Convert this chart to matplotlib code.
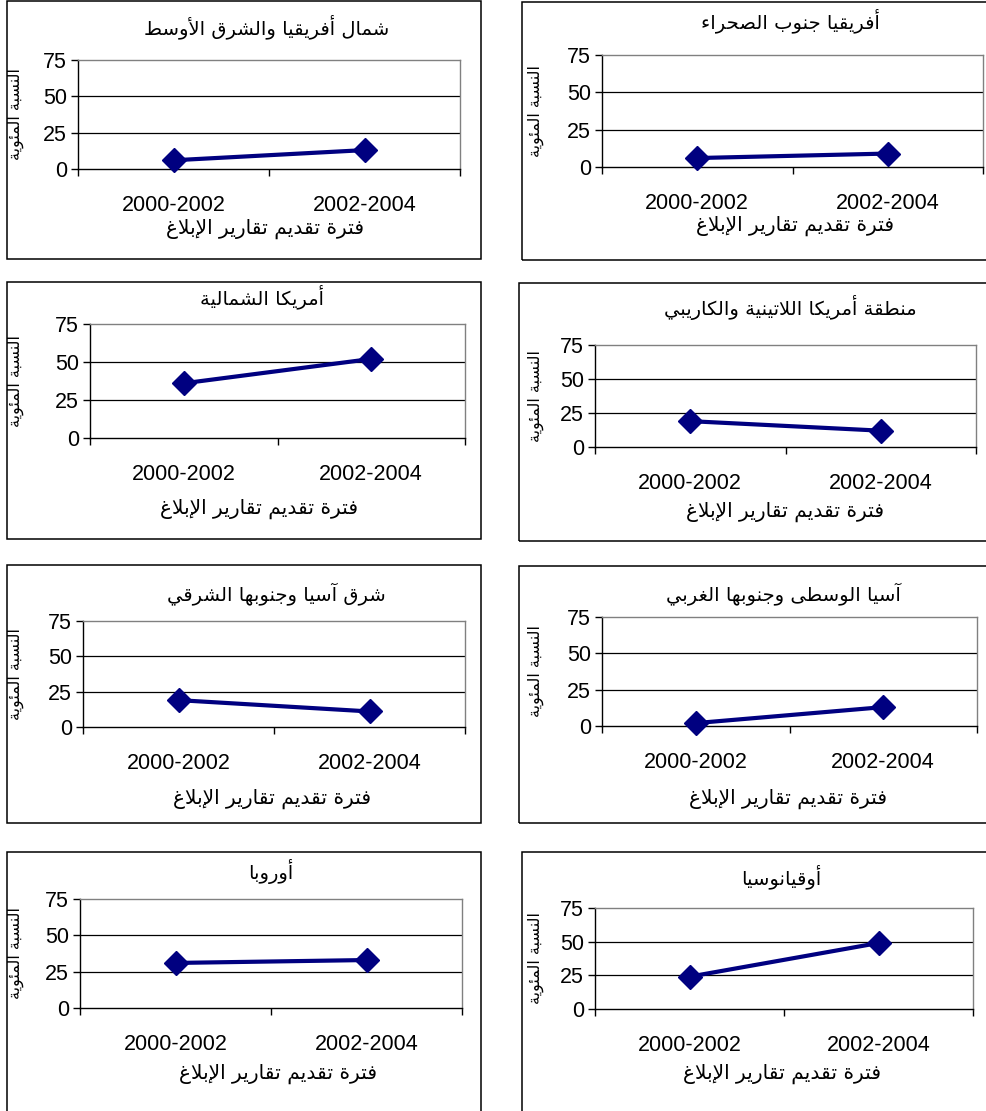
import matplotlib
matplotlib.use("Agg")
import matplotlib.pyplot as plt
from matplotlib.patches import Rectangle

# ---- data -------------------------------------------------------------
periods = ["2000-2002", "2002-2004"]

regions = [
    "شمال أفريقيا والشرق الأوسط",
    "أفريقيا جنوب الصحراء",
    "أمريكا الشمالية",
    "منطقة أمريكا اللاتينية والكاريبي",
    "شرق آسيا وجنوبها الشرقي",
    "آسيا الوسطى وجنوبها الغربي",
    "أوروبا",
    "أوقيانوسيا",
]

north_africa_me = [6, 13]
sub_saharan = [6, 9]
north_america = [36, 52]
latin_america = [19, 12]
east_asia = [19, 11]
central_asia = [2, 13]
europe = [31, 33]
oceania = [24, 49]

series = [north_africa_me, sub_saharan, north_america, latin_america,
          east_asia, central_asia, europe, oceania]

y_ticks = [0, 25, 50, 75]
x_title = "فترة تقديم تقارير الإبلاغ"
y_title = "النسبة المئوية"

# ---- Arabic shaping (matplotlib draws glyphs without shaping/bidi) ------
_FORMS = {
    '\u0621': (0xFE80, 1), '\u0622': (0xFE81, 2), '\u0623': (0xFE83, 2),
    '\u0624': (0xFE85, 2), '\u0625': (0xFE87, 2), '\u0626': (0xFE89, 4),
    '\u0627': (0xFE8D, 2), '\u0628': (0xFE8F, 4), '\u0629': (0xFE93, 2),
    '\u062A': (0xFE95, 4), '\u062B': (0xFE99, 4), '\u062C': (0xFE9D, 4),
    '\u062D': (0xFEA1, 4), '\u062E': (0xFEA5, 4), '\u062F': (0xFEA9, 2),
    '\u0630': (0xFEAB, 2), '\u0631': (0xFEAD, 2), '\u0632': (0xFEAF, 2),
    '\u0633': (0xFEB1, 4), '\u0634': (0xFEB5, 4), '\u0635': (0xFEB9, 4),
    '\u0636': (0xFEBD, 4), '\u0637': (0xFEC1, 4), '\u0638': (0xFEC5, 4),
    '\u0639': (0xFEC9, 4), '\u063A': (0xFECD, 4), '\u0641': (0xFED1, 4),
    '\u0642': (0xFED5, 4), '\u0643': (0xFED9, 4), '\u0644': (0xFEDD, 4),
    '\u0645': (0xFEE1, 4), '\u0646': (0xFEE5, 4), '\u0647': (0xFEE9, 4),
    '\u0648': (0xFEED, 2), '\u0649': (0xFEEF, 2), '\u064A': (0xFEF1, 4),
}
_LAM_ALEF = {'\u0622': 0xFEF5, '\u0623': 0xFEF7, '\u0625': 0xFEF9, '\u0627': 0xFEFB}


def shape_arabic(text):
    tokens = []
    i = 0
    while i < len(text):
        ch = text[i]
        if ch == '\u0644' and i + 1 < len(text) and text[i + 1] in _LAM_ALEF:
            tokens.append((_LAM_ALEF[text[i + 1]], 2))
            i += 2
            continue
        tokens.append(_FORMS.get(ch, ch))
        i += 1
    out = []
    for k, tok in enumerate(tokens):
        if isinstance(tok, str):
            out.append(tok)
            continue
        base, n = tok
        prev = tokens[k - 1] if k > 0 else None
        nxt = tokens[k + 1] if k + 1 < len(tokens) else None
        jp = n >= 2 and isinstance(prev, tuple) and prev[1] == 4
        jn = n == 4 and isinstance(nxt, tuple) and nxt[1] >= 2
        off = 3 if (jp and jn) else 1 if jp else 2 if jn else 0
        out.append(chr(base + off))
    return ''.join(reversed(out))


# ---- layout (pixels) --------------------------------------------------
W, H = 986, 1111
DPI = 100
boxes = [(7, 1, 481, 259), (522, 2, 992, 260),
         (7, 282, 481, 539), (519, 283, 992, 541),
         (7, 565, 481, 823), (519, 566, 992, 823),
         (7, 852, 481, 1115), (522, 852, 992, 1115)]
plots = [(78, 60, 460, 169), (602, 55, 983, 167),
         (90, 324, 465, 438), (595, 345, 976, 447),
         (83, 621, 465, 727), (602, 617, 977, 726),
         (80, 899, 462, 1008), (595, 908, 973, 1009)]
title_pos = [(267, 27), (790, 21), (262, 297), (790, 307),
             (276, 594), (783, 594), (271, 872), (781, 877)]
xlab_pos = [(265, 229), (795, 226), (259, 509), (785, 512),
            (272, 799), (788, 799), (278, 1074), (782, 1074)]
ylab_x = [16, 536, 16, 536, 16, 536, 16, 536]

NUM_FONT = "Liberation Sans"
AR_FONT = "DejaVu Sans"
NAVY = "#000080"

fig = plt.figure(figsize=(W / DPI, H / DPI), dpi=DPI)
fig.patch.set_facecolor("white")


def fx(px):
    return px / W


def fy(py):
    return 1 - py / H


for idx in range(8):
    bx0, by0, bx1, by1 = boxes[idx]
    fig.patches.append(Rectangle((fx(bx0), fy(by1)), fx(bx1 - bx0), (by1 - by0) / H,
                                 transform=fig.transFigure, fill=False,
                                 edgecolor="black", linewidth=1.1, zorder=0))

    x0, y0, x1, y1 = plots[idx]
    ax = fig.add_axes([fx(x0), fy(y1), fx(x1 - x0), (y1 - y0) / H])
    vals = series[idx]
    ax.plot(range(len(periods)), vals, color=NAVY, linewidth=3.0,
            marker="D", markersize=12, markerfacecolor=NAVY,
            markeredgecolor=NAVY, zorder=3, clip_on=False)

    ax.set_xlim(-0.5, len(periods) - 0.5)
    ax.set_ylim(y_ticks[0], y_ticks[-1])
    ax.set_yticks(y_ticks)
    ax.set_yticklabels([str(t) for t in y_ticks], fontfamily=NUM_FONT, fontsize=15.5)
    ax.set_xticks(range(len(periods)))
    ax.set_xticklabels(periods, fontfamily=NUM_FONT, fontsize=15.5)
    ax.set_xticks([-0.5, 0.5, 1.5], minor=True)
    ax.tick_params(axis="x", which="major", length=0, pad=19)
    ax.tick_params(axis="x", which="minor", length=5, width=1, direction="out", color="black")
    ax.tick_params(axis="y", which="major", length=5, width=1, direction="out",
                   color="black", pad=3)

    for yv in y_ticks[1:-1]:
        ax.axhline(yv, color="black", linewidth=0.9, zorder=1)

    ax.spines["left"].set_color("black")
    ax.spines["bottom"].set_color("black")
    ax.spines["top"].set_color("#808080")
    ax.spines["right"].set_color("#808080")
    for s in ax.spines.values():
        s.set_linewidth(1.0)

    tx, ty = title_pos[idx]
    fig.text(fx(tx), fy(ty), shape_arabic(regions[idx]), ha="center", va="center",
             fontfamily=AR_FONT, fontsize=14)
    lx, ly = xlab_pos[idx]
    fig.text(fx(lx), fy(ly), shape_arabic(x_title), ha="center", va="center",
             fontfamily=AR_FONT, fontsize=14.5)
    fig.text(fx(ylab_x[idx]), fy((y0 + y1) / 2), shape_arabic(y_title), ha="center",
             va="center", rotation=90, fontfamily=AR_FONT, fontsize=11.5)

fig.savefig("out.png", dpi=DPI, facecolor="white")
